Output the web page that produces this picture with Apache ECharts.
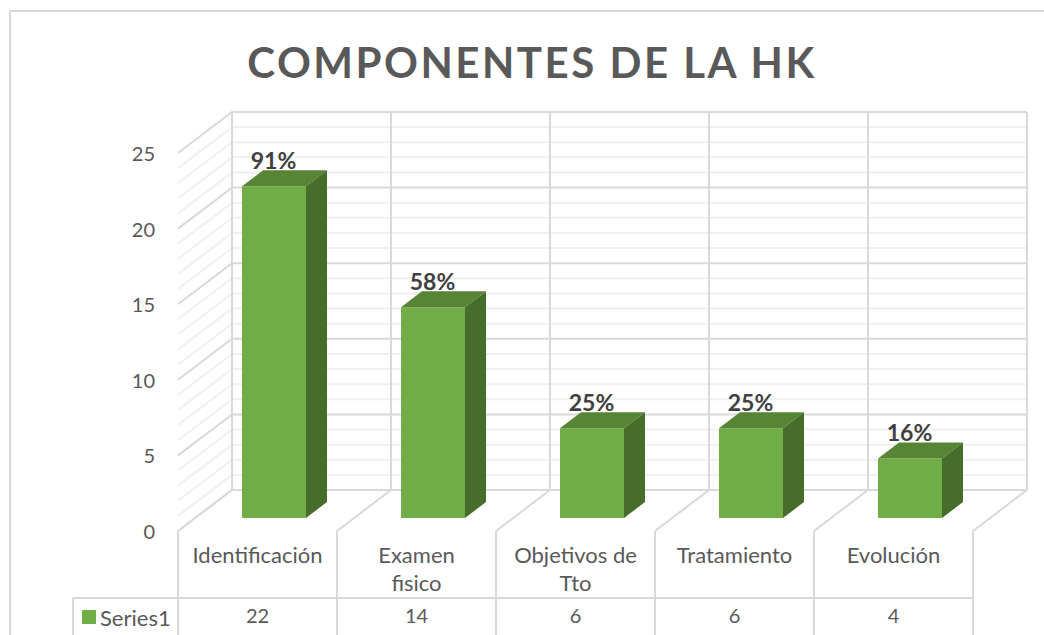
<!DOCTYPE html>
<html>
<head>
<meta charset="utf-8">
<title>Componentes de la HK</title>
<script src="https://cdn.jsdelivr.net/npm/echarts@6/dist/echarts.min.js"></script>
<style>
  html, body { margin: 0; padding: 0; background: #fff; }
  #chart { width: 1044px; height: 635px; }
  /* the original title has wide letter spacing */
  #chart text[style*="42px"] { letter-spacing: 2.5px; }
</style>
</head>
<body>
<div id="chart"></div>
<script>
  const categories = ['Identificación', 'Examen\nfisico', 'Objetivos de\nTto', 'Tratamiento', 'Evolución'];
  const values = [22, 14, 6, 6, 4];
  const percents = ['91%', '58%', '25%', '25%', '16%'];
  const wallTicks = [0, 1, 2, 3, 4, 5, 6, 7, 8, 9, 10, 11, 12, 13, 14, 15, 16, 17, 18, 19, 20, 21, 22, 23, 24, 25];
  const boundaries = [0, 1, 2, 3, 4, 5];

  const DEPTH_X = 54, DEPTH_Y = -41;
  const MAJOR = '#d9d9d9', MINOR = '#f0f0f0';

  let myChart = echarts.init(document.getElementById('chart'), null, {renderer: 'svg'});

  // walls: one polyline per value tick, side wall then back wall
  function renderWall(params, api) {
    const v = api.value(0);
    const p = api.coord([0, v]);
    const band = api.size([1, 0])[0];
    const x0 = p[0] - band / 2;
    return {
      type: 'polyline',
      shape: {points: [[x0, p[1]], [x0 + DEPTH_X, p[1] + DEPTH_Y], [x0 + DEPTH_X + band * 5, p[1] + DEPTH_Y]]},
      style: {fill: null, stroke: v % 5 === 0 ? MAJOR : MINOR, lineWidth: 2}
    };
  }

  // category boundaries: back wall vertical, floor diagonal and data table divider
  function renderBoundary(params, api) {
    const i = api.value(0);
    const zero = api.coord([0, 0]);
    const top = api.coord([0, 25]);
    const band = api.size([1, 0])[0];
    const x = zero[0] - band / 2 + band * i;
    return {
      type: 'group',
      children: [
        {type: 'line', shape: {x1: x + DEPTH_X, y1: top[1] + DEPTH_Y, x2: x + DEPTH_X, y2: zero[1] + DEPTH_Y},
          style: {stroke: MAJOR, lineWidth: 2}},
        {type: 'line', shape: {x1: x, y1: zero[1], x2: x + DEPTH_X, y2: zero[1] + DEPTH_Y},
          style: {stroke: MAJOR, lineWidth: 2}},
        {type: 'line', shape: {x1: x, y1: zero[1], x2: x, y2: 635},
          style: {stroke: MAJOR, lineWidth: 2}}
      ]
    };
  }

  function renderBar(params, api) {
    const base = api.coord([api.value(0), 0]);
    const top = api.coord([api.value(0), api.value(1)]);
    const w = 64, dx = 21, dy = -16;
    const offX = 16.5, offY = -13;  // bar stands behind the front edge of the floor
    const x1 = base[0] - w / 2 + offX;
    const x2 = x1 + w;
    const yb = base[1] + offY;
    const yt = top[1] + offY + 1;
    return {
      type: 'group',
      children: [
        {type: 'rect', shape: {x: x1, y: yt, width: w, height: yb - yt}, style: {fill: '#70ad47'}},
        {type: 'polygon', shape: {points: [[x1, yt], [x1 + dx, yt + dy], [x2 + dx, yt + dy], [x2, yt]]},
          style: {fill: '#578435'}},
        {type: 'polygon', shape: {points: [[x2, yt], [x2 + dx, yt + dy], [x2 + dx, yb + dy], [x2, yb]]},
          style: {fill: '#476d2b'}},
        {type: 'text', style: {text: percents[params.dataIndex], x: base[0] + offX - 0.5, y: yt + dy + 1,
          align: 'center', verticalAlign: 'bottom', fill: '#404040',
          font: 'bold 23px Lato'}}
      ]
    };
  }

  myChart.setOption({
    animation: false,
    backgroundColor: '#fff',
    textStyle: {fontFamily: 'Lato'},
    title: {
      text: 'COMPONENTES DE LA HK',
      left: 527,
      top: 36,
      textAlign: 'center',
      textStyle: {color: '#595959', fontSize: 42, fontWeight: 'bold', fontFamily: 'Lato'}
    },
    legend: {
      show: true,
      data: [{name: 'Series1', icon: 'rect'}],
      left: 82,
      top: 606,
      itemWidth: 14,
      itemHeight: 14,
      itemGap: 4,
      padding: 0,
      textStyle: {color: '#595959', fontSize: 22, padding: [0, 0, 0, -1]}
    },
    grid: {left: 178, top: 153, width: 795, height: 378},
    xAxis: [
      {
        type: 'category',
        data: categories,
        axisLine: {show: false},
        axisTick: {show: false},
        axisLabel: {color: '#595959', fontSize: 22, lineHeight: 28, margin: 9, interval: 0, verticalAlign: 'top'}
      },
      {
        type: 'category',
        position: 'bottom',
        offset: 72,
        data: values.map(String),
        axisLine: {show: false},
        axisTick: {show: false},
        axisLabel: {color: '#595959', fontSize: 20, margin: 0, interval: 0, verticalAlign: 'top', lineHeight: 24}
      }
    ],
    yAxis: {
      type: 'value',
      min: 0,
      max: 25,
      interval: 5,
      axisLine: {show: false},
      axisTick: {show: false},
      splitLine: {show: false},
      axisLabel: {color: '#595959', fontSize: 20, margin: 23, padding: [2, 0, 0, 0]}
    },
    graphic: [
      {type: 'rect', silent: true, z: -1, shape: {x: 10, y: 11, width: 1050, height: 700},
        style: {fill: null, stroke: MAJOR, lineWidth: 2}},
      {type: 'line', silent: true, shape: {x1: 73, y1: 598, x2: 973, y2: 598}, style: {stroke: MAJOR, lineWidth: 2}},
      {type: 'line', silent: true, shape: {x1: 73, y1: 598, x2: 73, y2: 635}, style: {stroke: MAJOR, lineWidth: 2}}
    ],
    series: [
      {
        type: 'custom',
        silent: true,
        clip: false,
        z: 1,
        data: wallTicks.filter(function (v) { return v % 5 !== 0; }).concat(wallTicks.filter(function (v) { return v % 5 === 0; })).map(function (v) { return [v]; }),
        encode: {x: -1, y: 0},
        renderItem: renderWall
      },
      {
        type: 'custom',
        silent: true,
        clip: false,
        z: 2,
        data: boundaries.map(function (i) { return [i]; }),
        encode: {x: -1, y: -1},
        renderItem: renderBoundary
      },
      {
        name: 'Series1',
        type: 'custom',
        clip: false,
        z: 3,
        itemStyle: {color: '#70ad47'},
        data: values.map(function (v, i) { return [i, v]; }),
        encode: {x: 0, y: 1},
        renderItem: renderBar
      }
    ]
  });
</script>
</body>
</html>
